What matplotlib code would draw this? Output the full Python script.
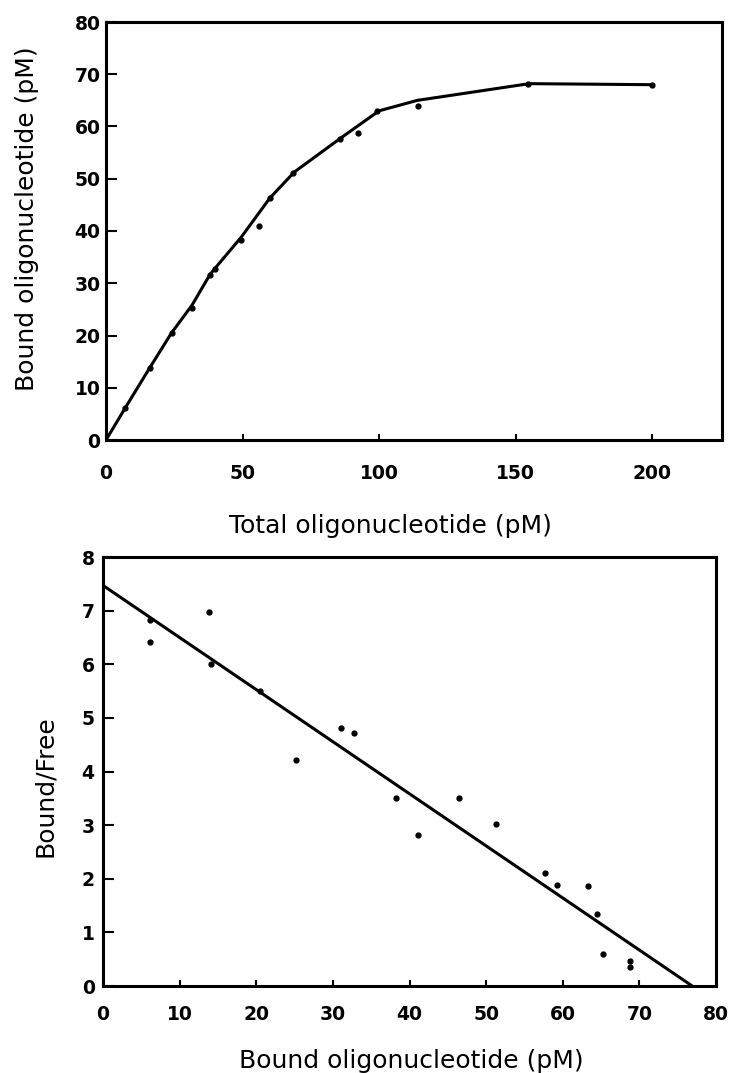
import matplotlib
matplotlib.use('Agg')
import matplotlib.pyplot as plt

# saturation curve: total vs bound oligonucleotide (pM)
total_x = [7, 16, 24, 31.4, 38.1, 39.9, 49.5, 56.2, 60, 68.6, 85.7, 92.4, 99.1, 114.3, 154.6, 199.9]
total_y = [6.1, 13.8, 20.5, 25.3, 31.6, 32.8, 38.3, 41.0, 46.3, 51.1, 57.6, 58.8, 62.9, 64.0, 68.2, 68.0]
# hand drawn curve through the points
curve_x = [0, 7, 16, 24, 31.5, 38, 40, 49.5, 60, 69, 86, 100, 114, 155, 200]
curve_y = [0, 6.1, 13.8, 20.5, 25.8, 31.6, 32.9, 38.8, 46.3, 51.3, 57.8, 63.0, 65.0, 68.2, 68.0]

# Scatchard plot: bound vs bound/free
bound = [6.1, 6.1, 13.8, 14.1, 20.5, 25.2, 31.1, 32.7, 38.2, 41.1, 46.4, 51.3, 57.7, 59.3, 63.3, 64.5, 65.3, 68.8, 68.8]
ratio = [6.83, 6.41, 6.97, 6.0, 5.51, 4.22, 4.81, 4.71, 3.51, 2.82, 3.51, 3.02, 2.11, 1.88, 1.86, 1.35, 0.59, 0.47, 0.36]
fit_x = [0, 76.9]
fit_y = [7.47, 0]

top_xticks = [0, 50, 100, 150, 200]
top_yticks = [0, 10, 20, 30, 40, 50, 60, 70, 80]
bot_xticks = [0, 10, 20, 30, 40, 50, 60, 70, 80]
bot_yticks = [0, 1, 2, 3, 4, 5, 6, 7, 8]

W, H = 732, 1073
fig = plt.figure(figsize=(W / 100, H / 100), dpi=100)


def px_axes(l, t, r, b):
    return fig.add_axes([l / W, 1 - b / H, (r - l) / W, (b - t) / H])


def style(ax, xpad, ypad):
    for s in ax.spines.values():
        s.set_linewidth(2.2)
    ax.tick_params(direction='in', top=False, right=False, width=1.5)
    ax.tick_params(axis='y', length=8, pad=ypad)
    ax.tick_params(axis='x', length=4, pad=xpad)
    for lab in ax.get_xticklabels() + ax.get_yticklabels():
        lab.set_fontsize(13.5)
        lab.set_fontweight('bold')


ax1 = px_axes(106, 22, 722, 440)
ax1.plot(curve_x, curve_y, color='black', lw=2.2)
ax1.plot(total_x, total_y, 'o', color='black', ms=3.5)
ax1.set_xlim(0, 225.6)
ax1.set_ylim(0, 80)
ax1.set_xticks(top_xticks)
ax1.set_yticks(top_yticks)
style(ax1, 17, 4)

ax2 = px_axes(103, 557, 716, 986)
ax2.plot(fit_x, fit_y, color='black', lw=2.2, solid_capstyle='butt')
ax2.plot(bound, ratio, 'o', color='black', ms=3.5, clip_on=False)
ax2.set_xlim(0, 80)
ax2.set_ylim(0, 8)
ax2.set_xticks(bot_xticks)
ax2.set_yticks(bot_yticks)
style(ax2, 14, 6)

fig.text(390 / W, 1 - 533 / H, 'Total oligonucleotide (pM)', fontsize=18,
         ha='center', va='baseline')
fig.text(411 / W, 1 - 1068 / H, 'Bound oligonucleotide (pM)', fontsize=18,
         ha='center', va='baseline')
fig.text(34 / W, 1 - 219 / H, 'Bound oligonucleotide (pM)', fontsize=18,
         rotation=90, ha='center', va='baseline', rotation_mode='anchor')
fig.text(52 / W, 1 - 786 / H, 'Bound/Free', fontsize=18,
         rotation=90, ha='center', va='baseline', rotation_mode='anchor')

fig.savefig('out.png', dpi=100)
